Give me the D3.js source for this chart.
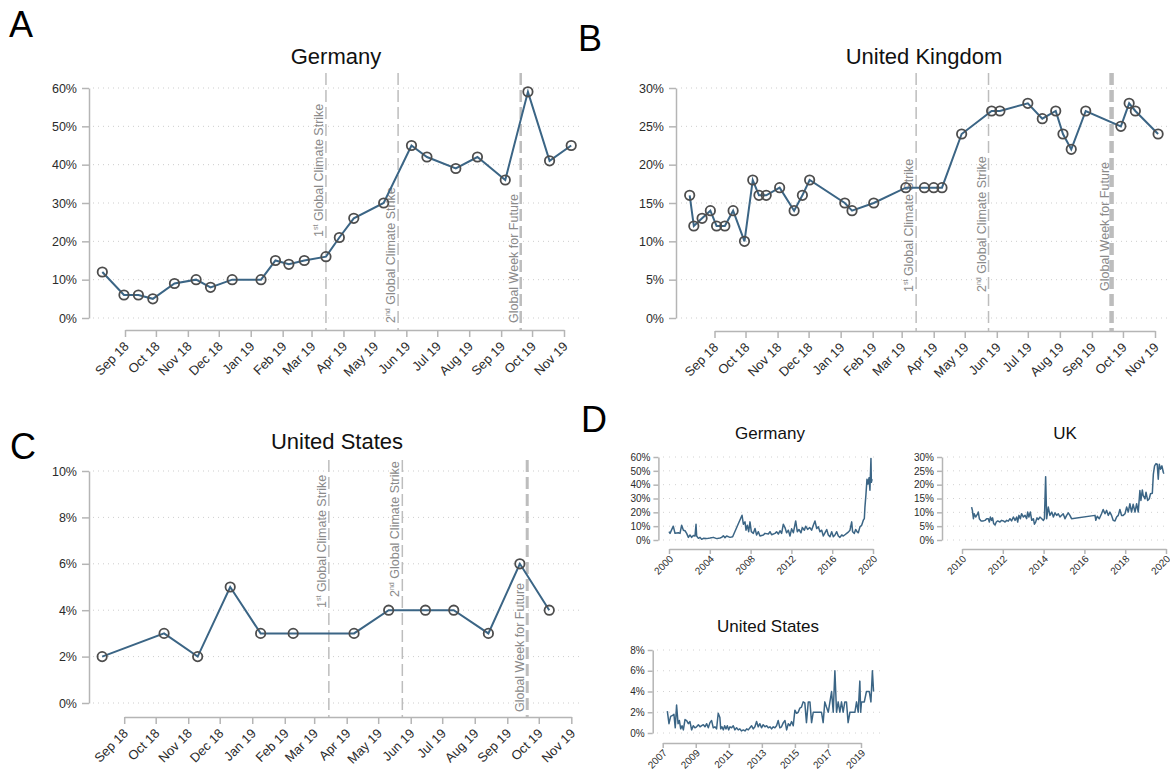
<!DOCTYPE html>
<html>
<head>
  <meta charset="utf-8">
  <script src="https://d3js.org/d3.v7.min.js"></script>
  <style>
    body { margin: 0; background: #fff; }
    text { font-family: "Liberation Sans", Arial, Helvetica, sans-serif; }
  </style>
</head>
<body>
<div id="chart"></div>
<script>
// ---- data: share of respondents (%) ----
// panel A, Germany
var gerDates = ["2018-08-10","2018-08-31","2018-09-14","2018-09-28","2018-10-19","2018-11-09","2018-11-23","2018-12-14",
  "2019-01-11","2019-01-25","2019-02-07","2019-02-22","2019-03-15","2019-03-28","2019-04-11","2019-05-10","2019-06-06",
  "2019-06-21","2019-07-19","2019-08-09","2019-09-05","2019-09-27","2019-10-18","2019-11-08"];
var gerValues = [12, 6, 6, 5, 9, 10, 8, 10, 10, 15, 14, 15, 16, 21, 26, 30, 45, 42, 39, 42, 36, 59, 41, 45];

// panel B, United Kingdom
var ukDates = ["2018-08-08","2018-08-12","2018-08-20","2018-08-28","2018-09-03","2018-09-11","2018-09-19","2018-09-30",
  "2018-10-08","2018-10-14","2018-10-21","2018-11-03","2018-11-17","2018-11-25","2018-12-02","2019-01-05","2019-01-12",
  "2019-02-02","2019-03-05","2019-03-23","2019-04-01","2019-04-09","2019-04-28","2019-05-27","2019-06-04","2019-07-01",
  "2019-07-15","2019-07-28","2019-08-04","2019-08-12","2019-08-26","2019-09-29","2019-10-07","2019-10-13","2019-11-04"];
var ukValues = [16, 12, 13, 14, 12, 12, 14, 10, 18, 16, 16, 17, 14, 16, 18, 15, 14, 15, 17, 17, 17, 17, 24, 27, 27, 28,
  26, 27, 24, 22, 27, 25, 28, 27, 24];

// panel C, United States
var usDates = ["2018-08-11","2018-10-09","2018-11-10","2018-12-11","2019-01-09","2019-02-09","2019-04-08","2019-05-11",
  "2019-06-15","2019-07-12","2019-08-14","2019-09-13","2019-10-11"];
var usValues = [2, 3, 2, 5, 3, 3, 3, 4, 4, 4, 3, 6, 4];

// climate strike events
var eventDates = ["2019-03-15", "2019-05-24", "2019-09-20"];
var eventLabels = [["1", "st", " Global Climate Strike"], ["2", "nd", " Global Climate Strike"], ["Global Week for Future", "", ""]];

// panel D, long series (decimal years)
var gerLongYears = [2000.0, 2000.10, 2000.42, 2000.59, 2000.92, 2001.08, 2001.24, 2001.41, 2001.57, 2001.73, 2001.90,
  2002.06, 2002.22, 2002.39, 2002.55, 2002.65, 2002.71, 2002.88, 2003.04, 2003.20, 2003.37, 2003.69, 2004.02, 2004.35,
  2004.67, 2005.00, 2005.16, 2005.33, 2005.49, 2005.65, 2005.98, 2006.24, 2007.16, 2007.29, 2007.45, 2007.55, 2007.68,
  2007.81, 2007.94, 2008.07, 2008.27, 2008.43, 2008.59, 2008.76, 2008.92, 2009.25, 2009.41, 2009.74, 2009.90, 2010.06,
  2010.39, 2010.55, 2010.72, 2010.88, 2011.04, 2011.21, 2011.37, 2011.53, 2011.70, 2011.86, 2012.02, 2012.19, 2012.42,
  2012.58, 2012.74, 2012.94, 2013.07, 2013.27, 2013.40, 2013.59, 2013.79, 2013.98, 2014.15, 2014.31, 2014.48, 2014.64,
  2014.80, 2014.97, 2015.13, 2015.29, 2015.46, 2015.62, 2015.78, 2015.95, 2016.11, 2016.27, 2016.44, 2016.60, 2016.76,
  2016.93, 2017.09, 2017.25, 2017.42, 2017.58, 2017.74, 2017.91, 2018.00, 2018.17, 2018.30, 2018.43, 2018.56, 2018.72,
  2018.89, 2019.05, 2019.15, 2019.21, 2019.31, 2019.41, 2019.51, 2019.61, 2019.70, 2019.80, 2019.84, 2019.91];
var gerLongValues = [6, 4.8, 10, 4.8, 5.2, 4.8, 10.7, 7.1, 6.7, 4.8, 1.9, 3.6, 1.9, 3.3, 2.9, 11.4, 2.9, 1.2, 1.9, 0.5,
  1.2, 1, 1.4, 1.9, 1, 1.4, 1.9, 3.1, 1.7, 2.9, 1.9, 2.4, 17.9, 11.4, 13.1, 7.1, 10.7, 6, 13.1, 6, 4.8, 8.3, 3.6, 6, 2.9,
  3.6, 4.8, 4.3, 6, 3.8, 4.8, 6, 4.3, 6.7, 4.8, 11.4, 9, 5.2, 7.1, 2.9, 8.1, 5.2, 13.8, 6, 7.6, 5.2, 9, 7.1, 10, 7.6, 9,
  7.1, 10.7, 13.8, 8.3, 9.5, 6, 7.1, 2.9, 5.2, 7.6, 3.6, 2.4, 6, 2.4, 3.6, 6, 2.9, 1.9, 3.6, 2.9, 3.8, 4.8, 5.7, 7.1,
  13.1, 6, 4.8, 7.6, 6, 5.2, 9.5, 10.7, 14.3, 15.5, 23.8, 33, 44, 40.5, 45, 36, 59, 41.7, 44];

var ukLongYears = [2010.47, 2010.51, 2010.56, 2010.60, 2010.67, 2010.72, 2010.77, 2010.80, 2010.85, 2010.93, 2011.05,
  2011.13, 2011.21, 2011.29, 2011.34, 2011.39, 2011.45, 2011.50, 2011.55, 2011.62, 2011.68, 2011.75, 2011.86, 2011.94,
  2012.03, 2012.11, 2012.19, 2012.27, 2012.35, 2012.43, 2012.52, 2012.60, 2012.68, 2012.73, 2012.79, 2012.86, 2012.92,
  2013.01, 2013.09, 2013.17, 2013.22, 2013.28, 2013.35, 2013.42, 2013.50, 2013.55, 2013.61, 2013.68, 2013.74, 2013.82,
  2013.91, 2013.99, 2014.04, 2014.10, 2014.15, 2014.23, 2014.31, 2014.40, 2014.48, 2014.56, 2014.64, 2014.72, 2014.80,
  2014.96, 2015.05, 2015.13, 2015.21, 2015.29, 2015.37, 2016.52, 2016.56, 2016.63, 2016.73, 2016.84, 2016.92, 2017.01,
  2017.09, 2017.17, 2017.25, 2017.33, 2017.41, 2017.50, 2017.58, 2017.66, 2017.74, 2017.82, 2017.90, 2017.99, 2018.07,
  2018.15, 2018.23, 2018.31, 2018.39, 2018.48, 2018.56, 2018.64, 2018.72, 2018.77, 2018.84, 2018.88, 2018.97, 2019.02,
  2019.10, 2019.18, 2019.24, 2019.33, 2019.38, 2019.44, 2019.51, 2019.57, 2019.62, 2019.67, 2019.73, 2019.80, 2019.87,
  2019.90];
var ukLongValues = [11.9, 10.7, 7.7, 9.5, 8.3, 8.9, 9.5, 10.1, 7.7, 6.9, 6.9, 7.1, 7.7, 7.7, 6.5, 8.3, 7.1, 8, 6, 5.4,
  6.5, 6.9, 6.5, 7.1, 6.9, 6.5, 7.1, 6.8, 7.7, 6.9, 8.3, 7.1, 8.3, 6.5, 8.9, 7.7, 9.5, 8.3, 8.9, 7.7, 10.1, 8.3, 10.1,
  7.1, 7.7, 5.7, 6.5, 8, 7.4, 8.3, 7.7, 7.1, 7.7, 22.9, 7.7, 11.9, 8.9, 10.1, 8.3, 9.8, 8.9, 9.5, 8.3, 9.5, 7.7, 8.9,
  9.8, 8.9, 7.7, 8.9, 7.1, 8.6, 7.7, 9.5, 11, 9.5, 10.7, 8.9, 10.1, 8.9, 7.1, 6.9, 8.3, 8.9, 11, 8.9, 8.9, 9.5, 11.9,
  10.1, 13.1, 10.1, 12.9, 10.1, 13.1, 10.1, 17.9, 14.3, 18.1, 16.1, 14.9, 17.3, 14.3, 14.9, 16.7, 16.9, 23.8, 26.8,
  27.6, 27.4, 22, 27.4, 25.6, 26.8, 24.4, 24];

var usLongYears = [2007.28, 2007.38, 2007.48, 2007.60, 2007.68, 2007.76, 2007.84, 2007.93, 2008.01, 2008.09, 2008.17,
  2008.25, 2008.35, 2008.45, 2008.55, 2008.65, 2008.75, 2008.85, 2008.95, 2009.05, 2009.16, 2009.26, 2009.36, 2009.46,
  2009.56, 2009.66, 2009.76, 2009.86, 2009.96, 2010.06, 2010.16, 2010.26, 2010.36, 2010.46, 2010.51, 2010.59, 2010.67,
  2010.75, 2010.83, 2010.91, 2010.99, 2011.07, 2011.17, 2011.27, 2011.37, 2011.47, 2011.57, 2011.67, 2011.77, 2011.88,
  2011.98, 2012.08, 2012.18, 2012.28, 2012.38, 2012.48, 2012.58, 2012.68, 2012.78, 2012.88, 2012.98, 2013.08, 2013.19,
  2013.29, 2013.39, 2013.49, 2013.59, 2013.69, 2013.79, 2013.89, 2013.99, 2014.09, 2014.19, 2014.30, 2014.40, 2014.50,
  2014.60, 2014.70, 2014.80, 2014.90, 2015.00, 2015.10, 2015.20, 2015.30, 2015.40, 2015.50, 2015.60, 2015.70, 2015.81,
  2015.91, 2016.01, 2016.11, 2016.21, 2016.31, 2016.41, 2016.51, 2016.61, 2016.71, 2016.81, 2016.91, 2017.02, 2017.12,
  2017.22, 2017.32, 2017.42, 2017.52, 2017.62, 2017.72, 2017.82, 2017.92, 2018.02, 2018.12, 2018.22, 2018.33, 2018.43,
  2018.53, 2018.63, 2018.73, 2018.83, 2018.93, 2018.98, 2019.03, 2019.20, 2019.33, 2019.50, 2019.60, 2019.69, 2019.76];
var usLongValues = [2.1, 0.9, 1.6, 1.7, 1.8, 0.5, 2.7, 0.9, 1.2, 0.4, 0.7, 0.3, 1.3, 1.2, 0.9, 1.1, 0.3, 0.7, 0.5, 0.6,
  0.8, 0.6, 0.7, 0.8, 0.6, 0.9, 0.5, 1.0, 1.2, 0.5, 0.6, 0.4, 1.9, 1.5, 0.4, 0.6, 0.3, 0.7, 0.4, 0.7, 0.3, 0.6, 0.5,
  0.7, 0.3, 0.5, 0.3, 0.4, 0.2, 0.3, 0.2, 0.4, 0.3, 0.5, 0.7, 0.4, 0.6, 1.1, 0.6, 0.9, 0.5, 0.8, 0.6, 0.7, 0.5, 0.6,
  0.4, 0.6, 0.5, 0.7, 1.2, 0.5, 0.6, 1.0, 1.2, 0.3, 0.9, 0.7, 1.1, 0.7, 2.2, 1.9, 2.0, 2.4, 2.5, 3, 2.9, 1, 3, 3, 1, 2,
  2, 2, 2, 2, 2, 1, 3, 2.5, 2, 3, 4, 2, 6, 2, 3, 2, 3, 2, 3, 3, 1, 2, 2, 2, 2, 3, 2, 5, 2, 3, 3, 4, 4, 3, 6, 4];

// ---- drawing ----
var lineColor = "#3b6585",
    axisColor = "#b5b5b5",
    tickText = "#2b2b2b",
    eventColor = "#bdbdbd",
    eventText = "#8a8a8a",
    fontFam = '"Liberation Sans", Arial, Helvetica, sans-serif';

var parseDate = d3.timeParse("%Y-%m-%d");

var svg = d3.select("#chart").append("svg")
  .attr("width", 1170).attr("height", 772)
  .style("background", "#fff");

function styleAxis(sel, size) {
  sel.attr("font-family", fontFam).attr("font-size", size);
  sel.select(".domain").attr("stroke", axisColor).attr("stroke-width", 1.5);
  sel.selectAll(".tick line").attr("stroke", axisColor).attr("stroke-width", 1.5);
  sel.selectAll(".tick text").attr("fill", tickText);
}

function drawPanel(p) {
  var g = svg.append("g");
  var x = d3.scaleTime()
    .domain([parseDate("2018-09-01"), parseDate("2019-11-01")])
    .range(p.xRange);
  var y = d3.scaleLinear().domain([0, p.yMax]).range(p.yRange);
  var yTicks = d3.range(0, p.yMax + 0.01, p.yStep);

  // dotted grid
  g.selectAll(".grid").data(yTicks).enter().append("line")
    .attr("x1", p.gridX[0]).attr("x2", p.gridX[1])
    .attr("y1", function(d) { return y(d); })
    .attr("y2", function(d) { return y(d); })
    .attr("stroke", "#cdcdcd").attr("stroke-width", 1)
    .attr("stroke-dasharray", "1,4");

  // axes
  var ya = g.append("g")
    .attr("transform", "translate(" + p.yAxisX + ",0)")
    .call(d3.axisLeft(y).tickValues(yTicks).tickFormat(function(d) { return d + "%"; })
      .tickSize(7).tickPadding(5).tickSizeOuter(0));
  styleAxis(ya, 12.5);

  var xa = g.append("g")
    .attr("transform", "translate(0," + p.xAxisY + ")")
    .call(d3.axisBottom(x).ticks(d3.timeMonth.every(1)).tickFormat(d3.timeFormat("%b %y"))
      .tickSize(7).tickSizeOuter(0));
  styleAxis(xa, 13);
  xa.selectAll(".tick text")
    .attr("x", 0).attr("y", 0).attr("dy", "0.35em")
    .attr("transform", "translate(1,14) rotate(-45)")
    .style("text-anchor", "end");

  // event lines
  eventDates.forEach(function(ev, i) {
    var ex = x(parseDate(ev));
    g.append("line")
      .attr("x1", ex).attr("x2", ex)
      .attr("y1", p.vTop).attr("y2", p.xAxisY)
      .attr("stroke", eventColor)
      .attr("stroke-width", i === 2 ? p.weekWidth : 1.5)
      .attr("stroke-dasharray", "12,5");
    var t = g.append("text")
      .attr("transform", "translate(" + (ex - 3) + "," + p.labelBottoms[i] + ") rotate(-90)")
      .attr("font-size", 12.5)
      .attr("fill", eventText);
    var lab = eventLabels[i];
    t.append("tspan").text(lab[0]);
    if (lab[1]) {
      t.append("tspan").attr("font-size", 7).attr("dy", -5).text(lab[1]);
      t.append("tspan").attr("dy", 5).text(lab[2]);
    }
  });

  // series
  var data = p.dates.map(function(d, i) { return { date: parseDate(d), value: p.values[i] }; });
  var line = d3.line()
    .x(function(d) { return x(d.date); })
    .y(function(d) { return y(d.value); });
  g.append("path").datum(data)
    .attr("d", line)
    .attr("fill", "none")
    .attr("stroke", lineColor)
    .attr("stroke-width", 2);
  g.selectAll(".pt").data(data).enter().append("circle")
    .attr("cx", function(d) { return x(d.date); })
    .attr("cy", function(d) { return y(d.value); })
    .attr("r", 4.7)
    .attr("fill", "none")
    .attr("stroke", "#4d4d4d")
    .attr("stroke-width", 1.8);

  // title
  g.append("text")
    .attr("x", p.titleX).attr("y", p.titleY)
    .attr("text-anchor", "middle")
    .attr("font-size", 22)
    .attr("fill", "#111")
    .text(p.title);
}

function drawMini(p) {
  var g = svg.append("g");
  var x = d3.scaleLinear().domain(p.xDomain).range(p.xRange);
  var y = d3.scaleLinear().domain([0, p.yMax]).range(p.yRange);
  var yTicks = d3.range(0, p.yMax + 0.01, p.yStep);

  g.selectAll(".grid").data(yTicks).enter().append("line")
    .attr("x1", p.gridX[0]).attr("x2", p.gridX[1])
    .attr("y1", function(d) { return y(d); })
    .attr("y2", function(d) { return y(d); })
    .attr("stroke", "#d2d2d2").attr("stroke-width", 1)
    .attr("stroke-dasharray", "1,5");

  var ya = g.append("g")
    .attr("transform", "translate(" + p.yAxisX + ",0)")
    .call(d3.axisLeft(y).tickValues(yTicks).tickFormat(function(d) { return d + "%"; })
      .tickSize(5).tickPadding(3).tickSizeOuter(0));
  styleAxis(ya, 10);

  var xa = g.append("g")
    .attr("transform", "translate(0," + p.xAxisY + ")")
    .call(d3.axisBottom(x).tickValues(p.xTicks).tickFormat(d3.format("d"))
      .tickSize(5).tickSizeOuter(0));
  styleAxis(xa, 10);
  xa.selectAll(".tick text")
    .attr("x", 0).attr("y", 0).attr("dy", "0.35em")
    .attr("transform", "translate(2,8) rotate(-45)")
    .style("text-anchor", "end");

  var data = d3.zip(p.years, p.values);
  g.append("path").datum(data)
    .attr("d", d3.line()
      .x(function(d) { return x(d[0]); })
      .y(function(d) { return y(d[1]); }))
    .attr("fill", "none")
    .attr("stroke", lineColor)
    .attr("stroke-width", 1.5)
    .attr("stroke-linejoin", "round");

  g.append("text")
    .attr("x", p.titleX).attr("y", p.titleY)
    .attr("text-anchor", "middle")
    .attr("font-size", 17)
    .attr("fill", "#111")
    .text(p.title);
}

drawPanel({ title: "Germany", dates: gerDates, values: gerValues,
  xRange: [125, 564], yRange: [318, 88], yMax: 60, yStep: 10,
  yAxisX: 89, xAxisY: 330, gridX: [93, 580], titleX: 336, titleY: 64,
  vTop: 73, labelBottoms: [237, 323, 323], weekWidth: 2.5 });

drawPanel({ title: "United Kingdom", dates: ukDates, values: ukValues,
  xRange: [714.5, 1155], yRange: [318, 88], yMax: 30, yStep: 5,
  yAxisX: 676, xAxisY: 331, gridX: [681, 1168], titleX: 924, titleY: 64,
  vTop: 73, labelBottoms: [292, 292, 291], weekWidth: 4.5 });

drawPanel({ title: "United States", dates: usDates, values: usValues,
  xRange: [124.2, 571.3], yRange: [703, 471], yMax: 10, yStep: 2,
  yAxisX: 89, xAxisY: 717, gridX: [93, 580], titleX: 337, titleY: 449,
  vTop: 460, labelBottoms: [608, 597, 712], weekWidth: 3 });

drawMini({ title: "Germany", years: gerLongYears, values: gerLongValues,
  xDomain: [2000, 2020], xRange: [669, 873], xTicks: [2000, 2004, 2008, 2012, 2016, 2020],
  yRange: [540, 457], yMax: 60, yStep: 10, yAxisX: 658.4, xAxisY: 549,
  gridX: [663, 878], titleX: 770, titleY: 439 });

drawMini({ title: "UK", years: ukLongYears, values: ukLongValues,
  xDomain: [2010, 2020], xRange: [962, 1166], xTicks: [2010, 2012, 2014, 2016, 2018, 2020],
  yRange: [540, 457], yMax: 30, yStep: 5, yAxisX: 942, xAxisY: 549,
  gridX: [947, 1168], titleX: 1065, titleY: 439 });

drawMini({ title: "United States", years: usLongYears, values: usLongValues,
  xDomain: [2007, 2019], xRange: [662.7, 861], xTicks: [2007, 2009, 2011, 2013, 2015, 2017, 2019],
  yRange: [733, 650], yMax: 8, yStep: 2, yAxisX: 652.7, xAxisY: 743,
  gridX: [657, 880], titleX: 768, titleY: 632 });

// panel letters
var letters = [["A", 9, 37], ["B", 578, 51], ["C", 10, 459], ["D", 581, 432]];
svg.selectAll(".letter").data(letters).enter().append("text")
  .attr("x", function(d) { return d[1]; })
  .attr("y", function(d) { return d[2]; })
  .attr("font-size", 36)
  .attr("fill", "#000")
  .text(function(d) { return d[0]; });
</script>
</body>
</html>
